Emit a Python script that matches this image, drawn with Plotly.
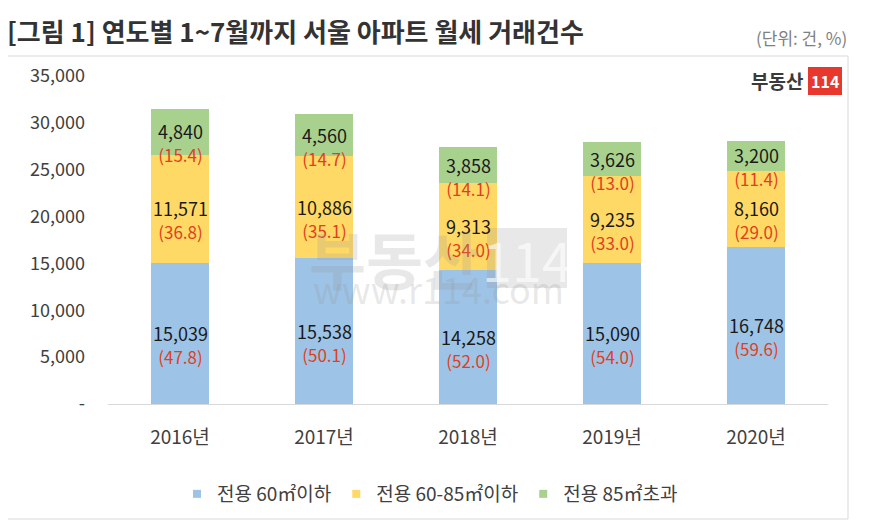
import plotly.graph_objects as go

years = ["2016년", "2017년", "2018년", "2019년", "2020년"]
series_names = ["전용 60㎡이하", "전용 60-85㎡이하", "전용 85㎡초과"]
small = [15039, 15538, 14258, 15090, 16748]
mid = [11571, 10886, 9313, 9235, 8160]
large = [4840, 4560, 3858, 3626, 3200]
pct_small = [47.8, 50.1, 52.0, 54.0, 59.6]
pct_mid = [36.8, 35.1, 34.0, 33.0, 29.0]
pct_large = [15.4, 14.7, 14.1, 13.0, 11.4]
y_ticks = [0, 5000, 10000, 15000, 20000, 25000, 30000, 35000]
y_tick_text = ["-", "5,000", "10,000", "15,000", "20,000", "25,000", "30,000", "35,000"]

FONT = "Noto Sans CJK KR"
colors = ["#9DC3E6", "#FFD966", "#A9D18E"]
RED = "#E0401E"

# page body has an 8px margin: work in reference pixels, convert to figure pixels
OFF = 8
W, H = 883, 519
L, R, T, B = 100, 63, 68, 123
pw, ph = W - L - R, H - T - B

def px(x):
    return (x - OFF - L) / pw

def py(y):
    return (H - B - (y - OFF)) / ph

fig = go.Figure()
for name, vals, col in zip(series_names, [small, mid, large], colors):
    fig.add_trace(go.Bar(x=years, y=vals, name=name, marker=dict(color=col, line=dict(width=0)),
                         hoverinfo="skip", showlegend=False))
for name, col in zip(series_names, colors):
    fig.add_trace(go.Scatter(x=[None], y=[None], mode="markers", name=name,
                             marker=dict(symbol="square", size=8, color=col), showlegend=True))

annotations = []
bases = [0] * len(years)
for vals, pcts in [(small, pct_small), (mid, pct_mid), (large, pct_large)]:
    for i, (v, p) in enumerate(zip(vals, pcts)):
        center = bases[i] + v / 2
        annotations.append(dict(
            x=years[i], y=center, xref="x", yref="y",
            text=f"{v:,}<br><span style='color:{RED};font-size:17px'>({p:.1f})</span>",
            showarrow=False, yanchor="middle", yshift=-11,
            font=dict(family=FONT, size=18, color="#1a1a1a"),
        ))
        bases[i] += v

WM = "rgba(150,150,150,0.22)"
annotations += [
    dict(x=px(394), y=py(258), xref="paper", yref="paper", text="<b>부동산</b>", showarrow=False,
         font=dict(family=FONT, size=62, color=WM)),
    dict(x=px(527), y=py(258), xref="paper", yref="paper", text="114", showarrow=False,
         font=dict(family=FONT, size=54, color="rgba(255,255,255,0.6)")),
    dict(x=px(438), y=py(316), xref="paper", yref="paper", text="www.r114.com", showarrow=False,
         font=dict(family=FONT, size=36, color=WM)),
    dict(x=px(5), y=py(30), xref="paper", yref="paper", text="<b>[그림 1] 연도별 1~7월까지 서울 아파트 월세 거래건수</b>",
         showarrow=False, xanchor="left", yanchor="middle",
         font=dict(family=FONT, size=26, color="#333333")),
    dict(x=px(849), y=py(37), xref="paper", yref="paper", text="(단위: 건, %)",
         showarrow=False, xanchor="right", yanchor="middle",
         font=dict(family=FONT, size=17, color="#808080")),
    dict(x=px(805), y=py(80), xref="paper", yref="paper", text="<b>부동산</b>",
         showarrow=False, xanchor="right", yanchor="middle",
         font=dict(family=FONT, size=19, color="#3a3a3a")),
    dict(x=px(825), y=py(81), xref="paper", yref="paper", text="<b>114</b>",
         showarrow=False, xanchor="center", yanchor="middle",
         font=dict(family=FONT, size=16, color="white")),
]

shapes = [
    dict(type="rect", xref="paper", yref="paper", x0=px(5), x1=px(848), y0=py(519), y1=py(56),
         line=dict(color="#D9D9D9", width=1), fillcolor="rgba(0,0,0,0)", layer="below"),
    dict(type="rect", xref="paper", yref="paper", x0=px(487), x1=px(567), y0=py(288), y1=py(228),
         line=dict(width=0), fillcolor=WM, layer="above"),
    dict(type="rect", xref="paper", yref="paper", x0=px(808), x1=px(842), y0=py(95), y1=py(67),
         line=dict(width=0), fillcolor="#E8372C", layer="below"),
]

fig.update_layout(
    width=W, height=H,
    margin=dict(l=L, r=R, t=T, b=B, autoexpand=False),
    barmode="stack", bargap=0.6,
    plot_bgcolor="white", paper_bgcolor="white",
    font=dict(family=FONT, size=15, color="#404040"),
    showlegend=True,
    legend=dict(orientation="h", x=px(430), xanchor="center", y=py(494), yanchor="middle",
                font=dict(family=FONT, size=19, color="#404040"), traceorder="normal",
                itemwidth=30, bgcolor="rgba(0,0,0,0)"),
    annotations=annotations,
    shapes=shapes,
    xaxis=dict(showline=True, linecolor="#D9D9D9", linewidth=1, ticks="", showgrid=False,
               tickfont=dict(family=FONT, size=19, color="#404040"), ticklabelstandoff=16,
               fixedrange=True),
    yaxis=dict(range=[0, 35000], tickvals=y_ticks, ticktext=y_tick_text, showgrid=False,
               zeroline=False, showline=False, ticks="",
               tickfont=dict(family=FONT, size=18, color="#404040"), ticklabelstandoff=22,
               fixedrange=True),
)

fig.write_html("out.html")
